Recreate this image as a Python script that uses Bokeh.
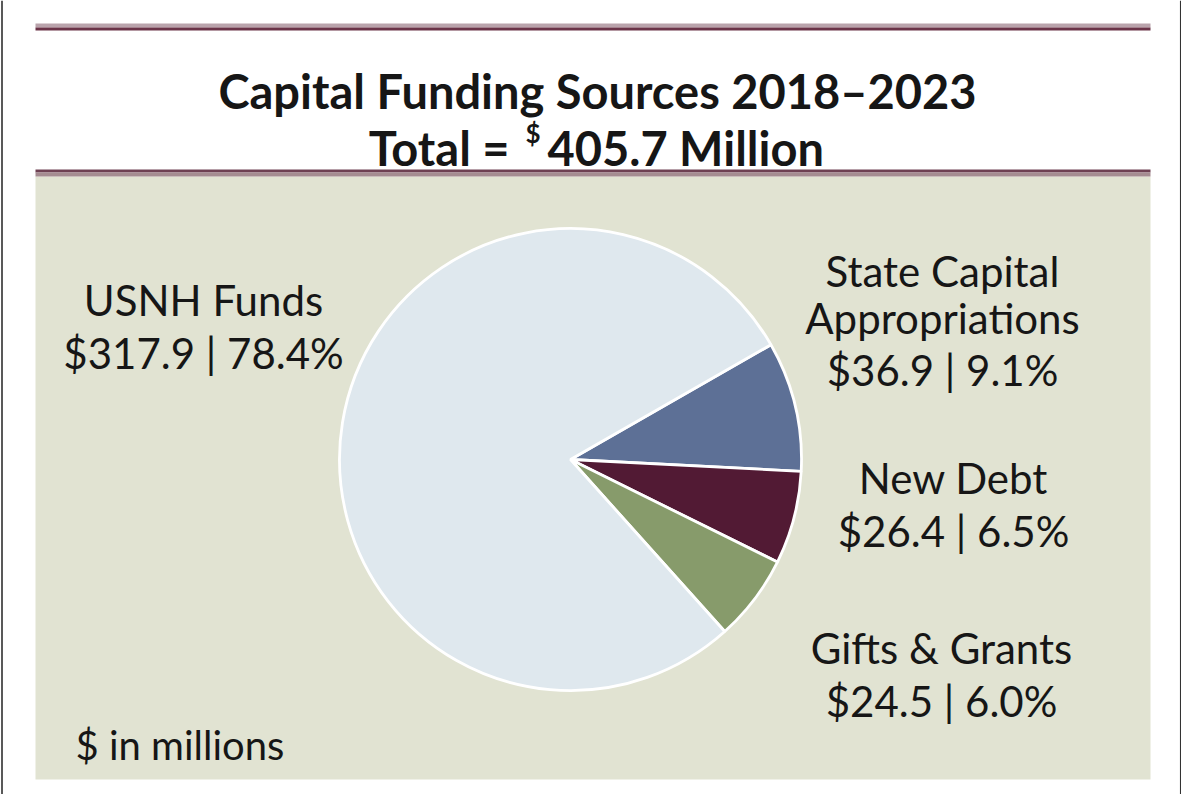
from bokeh.plotting import figure
from bokeh.models import Range1d, ColumnDataSource
from bokeh.core.properties import value
from bokeh.embed import file_html
from bokeh.resources import INLINE
import math

# ---- data ----
categories = ["State Capital Appropriations", "New Debt", "Gifts & Grants", "USNH Funds"]
amounts = [36.9, 26.4, 24.5, 317.9]
colors = ["#5d7096", "#521a34", "#879b6b", "#dfe8ee"]
title_line1 = "Capital Funding Sources 2018\u20132023"
total_amount = 405.7
note_text = "$ in millions"

# ---- layout helpers (reference pixel -> data) ----
W, H = 1181, 794
def X(rx):
    return rx - 8
def Y(ry):
    return H + 8 - ry

p = figure(width=W, height=H, x_range=Range1d(0, W), y_range=Range1d(0, H),
           output_backend="svg", toolbar_location=None, min_border=0)
p.axis.visible = False
p.grid.visible = False
p.outline_line_color = None
p.background_fill_color = "white"
p.border_fill_color = "white"

# outer frame lines
p.segment(x0=[X(9.5)], y0=[Y(8)], x1=[X(9.5)], y1=[0], line_color="#222222", line_width=1.5)
p.segment(x0=[W - 0.8], y0=[Y(8)], x1=[W - 0.8], y1=[0], line_color="#333333", line_width=1.5)

# title rules
p.quad(left=[X(43)], right=[X(1158)], top=[Y(31)], bottom=[Y(35)], fill_color="#b9a3ab", line_color=None)
p.quad(left=[X(43)], right=[X(1158)], top=[Y(35)], bottom=[Y(38)], fill_color="#6a3347", line_color=None)
# beige panel
p.quad(left=[X(43)], right=[X(1158)], top=[Y(184)], bottom=[Y(787)], fill_color="#e1e3d2", line_color=None)
p.quad(left=[X(43)], right=[X(1158)], top=[Y(177)], bottom=[Y(180)], fill_color="#6e4052", line_color=None)
p.quad(left=[X(43)], right=[X(1158)], top=[Y(180)], bottom=[Y(184)], fill_color="#a58c91", line_color=None)

# ---- pie ----
total = sum(amounts)
start_deg = 29.8  # State slice starts here, slices run clockwise
starts, ends = [], []
a = start_deg
for v in amounts:
    sweep = v / total * 360.0
    ends.append(math.radians(a))
    starts.append(math.radians(a - sweep))
    a -= sweep
src = ColumnDataSource(dict(cat=categories, amt=amounts, color=colors, s=starts, e=ends))
p.wedge(x=X(578), y=Y(467), radius=231, start_angle="s", end_angle="e",
        direction="anticlock", fill_color="color", line_color="white", line_width=2.8, source=src)

# ---- texts ----
txt_color = "#161616"
font = value("Lato")

p.text(x=[X(605)], y=[Y(98)], text=[title_line1], text_font=font, text_font_style="bold",
       text_font_size="47px", text_align="center", text_baseline="alphabetic", text_color=txt_color)
p.text(x=[X(517)], y=[Y(155)], text=["Total ="], text_font=font, text_font_style="bold",
       text_font_size="47px", text_align="right", text_baseline="alphabetic", text_color=txt_color)
p.text(x=[X(533)], y=[Y(140)], text=["$"], text_font=font, text_font_style="bold",
       text_font_size="26px", text_align="left", text_baseline="alphabetic", text_color=txt_color)
p.text(x=[X(555)], y=[Y(155)], text=[f"{total_amount:.1f} Million"], text_font=font, text_font_style="bold",
       text_font_size="47px", text_align="left", text_baseline="alphabetic", text_color=txt_color)

def val_label(v):
    return f"${v:.1f} | {v / total * 100:.1f}%"

# label placements (reference pixels): (center x, baselines, name lines) per category
label_pos = {
    "USNH Funds": (211, [307, 360], ["USNH Funds"]),
    "State Capital Appropriations": (950, [278, 325, 377], ["State Capital", "Appropriations"]),
    "New Debt": (961, [485, 538], ["New Debt"]),
    "Gifts & Grants": (949, [655, 708], ["Gifts & Grants"]),
}
lx, ly, lt = [], [], []
for cat, amt in zip(categories, amounts):
    cx, bls, names = label_pos[cat]
    lines = names + [val_label(amt)]
    for t, b in zip(lines, bls):
        lx.append(X(cx)); ly.append(Y(b)); lt.append(t)
p.text(x=lx, y=ly, text=lt, text_font=font, text_font_size="42px", text_align="center",
       text_baseline="alphabetic", text_color=txt_color)

p.text(x=[X(83)], y=[Y(752)], text=[note_text], text_font=font, text_font_size="40px",
       text_align="left", text_baseline="alphabetic", text_color=txt_color)

open("out.html", "w").write(file_html(p, INLINE))
